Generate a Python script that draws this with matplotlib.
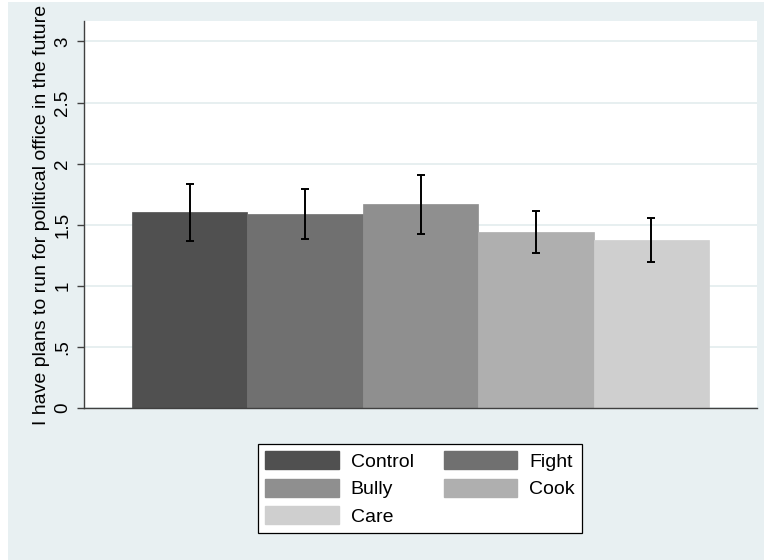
import matplotlib
matplotlib.use("Agg")
import matplotlib.pyplot as plt
from matplotlib.patches import Rectangle, Patch

categories = ["Control", "Fight", "Bully", "Cook", "Care"]
means = [1.60, 1.59, 1.668, 1.44, 1.376]
ci_low = [1.365, 1.38, 1.423, 1.265, 1.196]
ci_high = [1.837, 1.79, 1.905, 1.61, 1.553]
colors = ["#505050", "#707070", "#8f8f8f", "#afafaf", "#cfcfcf"]
yticks = [0, 0.5, 1, 1.5, 2, 2.5, 3]
yticklabels = ["0", ".5", "1", "1.5", "2", "2.5", "3"]
ylabel = "I have plans to run for political office in the future"

plt.rcParams['font.family'] = ['Liberation Sans', 'DejaVu Sans']
BG = "#e8f0f2"

fig = plt.figure(figsize=(7.65, 5.6), dpi=100)
W, H = 765, 560
fig.patches.append(Rectangle((8 / W, 0), (764 - 8) / W, (560 - 2) / H,
                             transform=fig.transFigure, facecolor=BG,
                             edgecolor="none", zorder=-10))

ax = fig.add_axes([84 / W, (H - 408) / H, (757 - 84) / W, (408 - 21) / H])
ax.set_facecolor("white")

x = list(range(len(categories)))
ax.bar(x, means, width=1.0, color=colors, edgecolor=colors, linewidth=0.5, zorder=2)
yerr = [[m - lo for m, lo in zip(means, ci_low)], [hi - m for m, hi in zip(means, ci_high)]]
ax.errorbar(x, means, yerr=yerr, fmt="none", ecolor="black", elinewidth=1.4,
            capsize=3.2, capthick=1.4, zorder=3)

ax.set_xlim(-0.917, 4.917)
ax.set_ylim(0, 3.167)
ax.set_yticks(yticks)
ax.set_yticklabels(yticklabels, rotation=90, va="center")
ax.set_xticks([])
ax.grid(axis="y", color="#e3ecee", linewidth=1.2, zorder=0)
ax.set_axisbelow(True)
for s in ["top", "right"]:
    ax.spines[s].set_visible(False)
for s in ["left", "bottom"]:
    ax.spines[s].set_color("#404040")
    ax.spines[s].set_linewidth(1.0)
ax.tick_params(axis="y", length=5, width=1.0, color="#404040", labelsize=13.5, pad=4)
ax.set_ylabel(ylabel, fontsize=14, labelpad=3)

handles = [Patch(facecolor=c, edgecolor=c) for c in colors]
order = [0, 2, 4, 1, 3]
leg = fig.legend([handles[i] for i in order], [categories[i] for i in order],
                 ncol=2, loc="center",
                 bbox_to_anchor=((257 + 583) / 2 / W, 1 - (443 + 534) / 2 / H),
                 fontsize=14, frameon=True, fancybox=False, edgecolor="black",
                 framealpha=1, handlelength=3.76, handleheight=1.03,
                 columnspacing=1.55, handletextpad=0.62, labelspacing=0.4,
                 borderpad=0.4, borderaxespad=0)
leg.get_frame().set_linewidth(0.9)

fig.savefig("out.png", dpi=100, facecolor="white")
